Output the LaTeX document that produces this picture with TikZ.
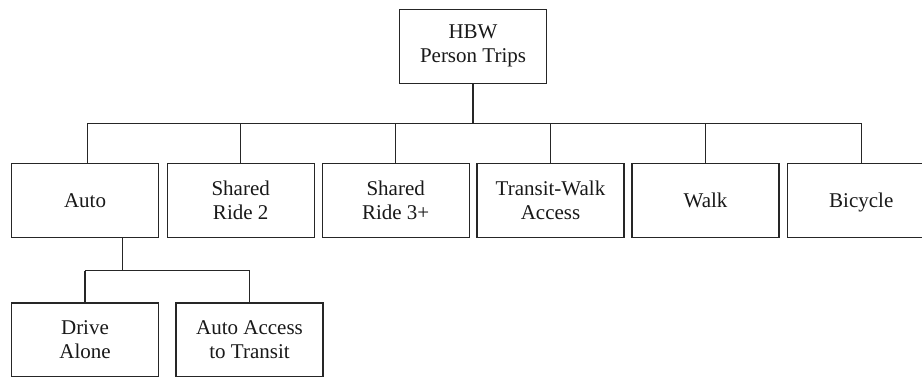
\documentclass[tikz,border=0pt]{standalone}
\usepackage{fontspec}
\setmainfont{Liberation Serif}
\begin{document}
\begin{tikzpicture}[x=1pt,y=-1pt,
  mode/.style={draw=black!85, line width=1.3pt, fill=white,
    minimum width=147pt, minimum height=74pt, align=center,
    inner sep=0pt, text=black!90,
    font=\fontsize{21}{24}\selectfont},
  oneline/.style={text height=13.9pt, text depth=0pt},
  link/.style={draw=black!85, line width=1.3pt}]
  \clip (0,0) rectangle (922,377);

  % root
  \node[mode] (hbw) at (473,46.3) {HBW\\Person Trips};

  % first level
  \node[mode,oneline] (auto)  at (85,200.5)    {Auto};
  \node[mode] (sr2)   at (240.7,200.5) {Shared\\Ride 2};
  \node[mode] (sr3)   at (395.7,200.5) {Shared\\Ride 3+};
  \node[mode] (twa)   at (550.5,200.5) {Transit-Walk\\Access};
  \node[mode,oneline] (walk)  at (705.5,200.5) {Walk};
  \node[mode,oneline] (bike)  at (861.3,200.5) {Bicycle};

  % second level under Auto
  \node[mode] (drive) at (85,340)    {Drive\\Alone};
  \node[mode] (aat)   at (249.5,340) {Auto Access\\to Transit};

  % upper tree
  \coordinate (bus) at (0,123.5);
  \coordinate (autoin) at ([xshift=2.7pt]auto.north);
  \draw[link] (hbw.south) -- (hbw.south |- bus);
  \draw[link] (autoin |- bus) -- (bike.north |- bus);
  \draw[link] (autoin) -- (autoin |- bus);
  \foreach \n in {sr2,sr3,twa,walk,bike}
    \draw[link] (\n.north) -- (\n.north |- bus);

  % lower tree
  \coordinate (sub) at (0,270.7);
  \coordinate (autoout) at ([xshift=37.7pt]auto.south);
  \draw[link] (autoout) -- (autoout |- sub);
  \draw[link] (drive.north |- sub) -- (aat.north |- sub);
  \draw[link] (drive.north) -- (drive.north |- sub);
  \draw[link] (aat.north) -- (aat.north |- sub);
\end{tikzpicture}
\end{document}
